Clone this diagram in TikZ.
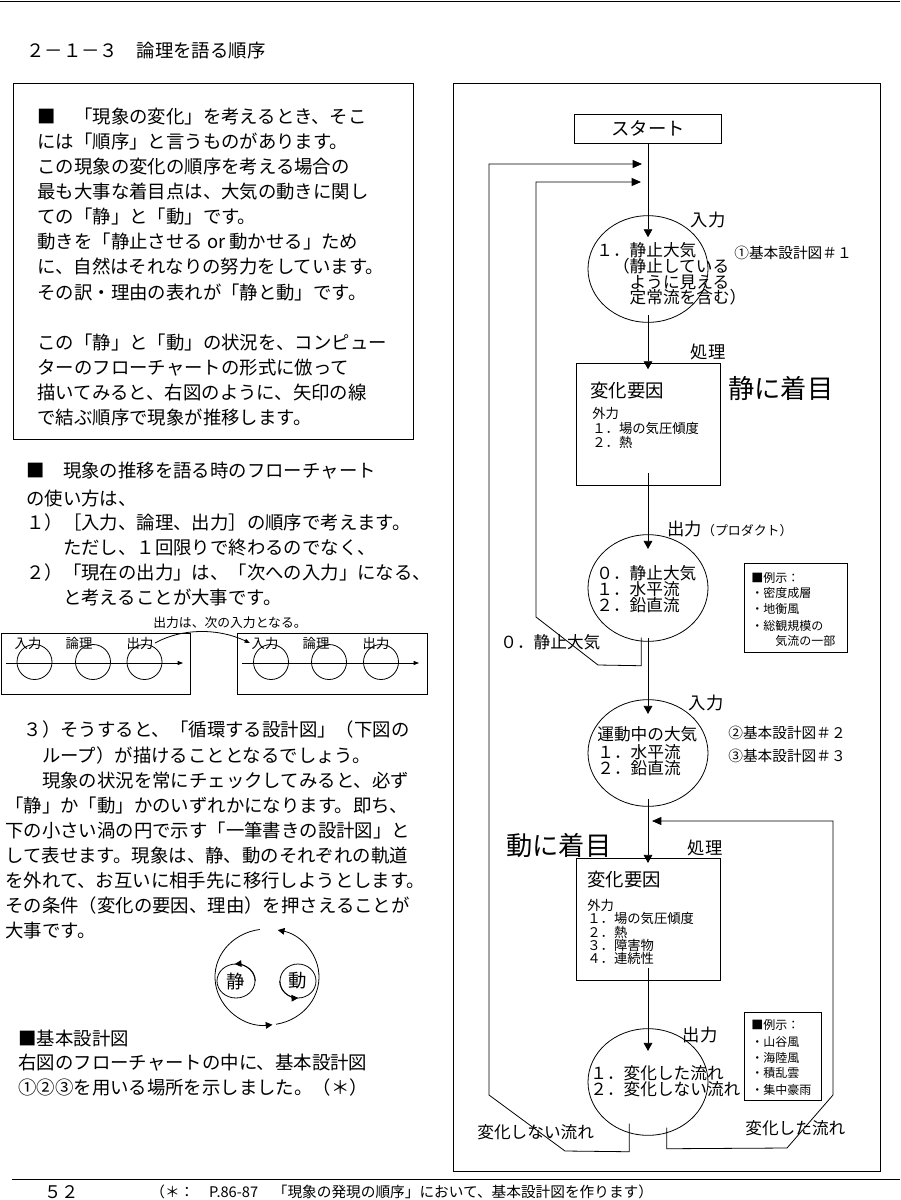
\documentclass[tikz,border=0pt]{standalone}
\usepackage{fontspec}
\setmainfont{Noto Sans CJK JP}
\usetikzlibrary{arrows.meta}
\usetikzlibrary{shapes.geometric}

\begin{document}
\begin{tikzpicture}[
	  x=0.75pt, y=-0.75pt,
	  line width=0.6pt,
	  textline/.style = {anchor=base west, inner sep=0pt, font=\fontsize{13.8}{16}\selectfont},
	  innerline/.style = {anchor=base west, inner sep=0pt, font=\fontsize{12.5}{14}\selectfont},
	  listline/.style = {anchor=base west, inner sep=0pt, font=\fontsize{10}{12}\selectfont},
	  exline/.style = {anchor=base west, inner sep=0pt, font=\fontsize{9}{11}\selectfont},
	  refline/.style = {anchor=base west, inner sep=0pt, font=\fontsize{11}{13}\selectfont},
	  focuslabel/.style = {anchor=base west, inner sep=0pt, font=\fontsize{19.7}{22}\selectfont},
	  phaselabel/.style = {inner sep=1pt, font=\fontsize{13}{15}\selectfont},
	  chainlabel/.style = {inner sep=1pt, font=\fontsize{10}{12}\selectfont},
	  air/.style = {draw, ellipse, inner sep=0pt, minimum width=90pt, minimum height=80pt},
	  factor/.style = {draw, rectangle, inner sep=0pt, minimum width=108pt, minimum height=91.5pt},
	  exbox/.style = {draw, rectangle, inner sep=0pt, anchor=north west},
	  flow/.style = {-{Triangle[length=6pt, width=6.5pt]}},
	  loopback/.style = {-{Triangle[length=7pt, width=6pt]}},
	  axis/.style = {-{Triangle[length=4pt, width=3pt]}},
	  cycle/.style = {-{Triangle[length=5pt, width=5pt]}}
	]
	  \useasboundingbox (0,0) rectangle (900,1200);

	  % page rules, heading, footer
	  \draw (0,1) -- (900,1);
	  \draw (12,1179) -- (900,1179);
	  \node[textline] (heading) at (26,57) {２－１－３　論理を語る順序};
	  \node[textline, font=\fontsize{13}{15}\selectfont] (pageno) at (44,1198) {５２};
	  \node[refline] (footnote) at (150,1197) {（＊：　P.86-87　「現象の発現の順序」において、基本設計図を作ります）};

	  % framed introduction
	  \draw (13,83) rectangle (413,439);
	  \foreach \y/\t [count=\i] in {123/■　「現象の変化」を考えるとき、そこ, 148.1/には「順序」と言うものがあります。,
	      173.3/この現象の変化の順序を考える場合の, 198.4/最も大事な着目点は、大気の動きに関し,
	      223.6/ての「静」と「動」です。, 248.7/動きを「静止させる or 動かせる」ため,
	      273.9/に、自然はそれなりの努力をしています。, 299/その訳・理由の表れが「静と動」です。,
	      349.3/この「静」と「動」の状況を、コンピュー, 374.5/ターのフローチャートの形式に倣って,
	      399.6/描いてみると、右図のように、矢印の線, 424.8/で結ぶ順序で現象が推移します。}
	    \node[textline] (intro-\i) at (37,\y) {\t};

	  % how to use the flowchart
	  \foreach \y/\t [count=\i] in {477/■　現象の推移を語る時のフローチャート, 505/の使い方は、,
	      529/１）［入力、論理、出力］の順序で考えます。, 554/　　ただし、１回限りで終わるのでなく、,
	      579/２）「現在の出力」は、「次への入力」になる、, 604/　　と考えることが大事です。}
	    \node[textline] (usage-\i) at (26,\y) {\t};

	  % input - logic - output chains
	  \draw (1,633) rectangle (190,694);
	  \draw (237,633) rectangle (427,694);
	  \foreach \n/\x in {lc1/34.5, lc2/93, lc3/144.5, rc1/271, rc2/329, rc3/381}
	    \node[draw, circle, minimum size=26.25pt, inner sep=0pt] (\n) at (\x,662) {};
	  \foreach \n/\x/\t in {lin/28/入力, llog/79/論理, lout/140/出力, rin/265/入力, rlog/316/論理, rout/376/出力}
	    \node[chainlabel] (\n) at (\x,643) {\t};
	  \coordinate (la0) at (6,663);
	  \coordinate (la1) at (183,663);
	  \coordinate (ra0) at (242,663);
	  \coordinate (ra1) at (419,663);
	  \draw[axis] (la0) -- (la1);
	  \draw[axis] (ra0) -- (ra1);
	  \node[chainlabel, font=\fontsize{9.6}{11}\selectfont] (carry) at (230,623) {出力は、次の入力となる。};
	  \draw[axis] (lout.east) .. controls (182,628) and (218,628) .. (rin.west);

	  % the loop paragraph
	  \foreach \y/\t [count=\i] in {736/　３）そうすると、「循環する設計図」（下図の, 762/　　ループ）が描けることとなるでしょう。,
	      787/　　現象の状況を常にチェックしてみると、必ず, 812/「静」か「動」かのいずれかになります。即ち、,
	      837/下の小さい渦の円で示す「一筆書きの設計図」と, 862/して表せます。現象は、静、動のそれぞれの軌道,
	      887/を外れて、お互いに相手先に移行しようとします。, 912/その条件（変化の要因、理由）を押さえることが,
	      937/大事です。}
	    \node[textline] (loop-\i) at (5,\y) {\t};

	  % one-stroke figure
	  \node[draw, ellipse, minimum width=28.5pt, minimum height=25.5pt, inner sep=0pt, font=\fontsize{13.8}{16}\selectfont] (sei) at (236,981) {静};
	  \node[draw, ellipse, minimum width=27pt, minimum height=25.5pt, inner sep=0pt, font=\fontsize{13.8}{16}\selectfont] (dou) at (298,981) {動};
	  \draw[cycle] (sei.east) arc[start angle=0, end angle=95, x radius=14.25pt, y radius=12.75pt];
	  \draw[cycle] (dou.west) arc[start angle=180, end angle=272, x radius=13.5pt, y radius=12.75pt];
	  \coordinate (orbit) at (267,977);
	  \draw[cycle] (orbit) ++(98:39pt and 36pt) arc[start angle=98, end angle=276, x radius=39pt, y radius=36pt];
	  \draw[cycle] (orbit) ++(280:39pt and 36pt) arc[start angle=280, end angle=438, x radius=39pt, y radius=36pt];

	  % basic design note
	  \foreach \y/\t [count=\i] in {1045/■基本設計図, 1069/右図のフローチャートの中に、基本設計図,
	      1094/①②③を用いる場所を示しました。（＊）}
	    \node[textline] (design-\i) at (18,\y) {\t};

	  % flowchart
	  \draw (453,83) rectangle (880,1171);
	  \node[draw, minimum width=110.25pt, minimum height=21.75pt, inner sep=0pt, font=\fontsize{13.8}{16}\selectfont] (start) at (648,128.5) {スタート};
	  \node[air] (c1) at (648,269) {};
	  \node[factor] (box2) at (648,424) {};
	  \node[air] (c2) at (648,588) {};
	  \node[air] (c3) at (648,753) {};
	  \node[factor] (box3) at (648,919) {};
	  \node[air] (c4) at (648,1082) {};

	  \foreach \y/\t [count=\i] in {256/１．静止大気, 272/　（静止している, 288/　　ように見える, 303/　　定常流を含む）}
	    \node[innerline] (c1-\i) at (596,\y) {\t};
	  \node[textline] (box2-head) at (590,397) {変化要因};
	  \foreach \y/\t [count=\i] in {418/外力, 433/１．場の気圧傾度, 447/２．熱}
	    \node[listline] (box2-\i) at (592,\y) {\t};
	  \foreach \y/\t [count=\i] in {579/０．静止大気, 595/１．水平流, 611/２．鉛直流}
	    \node[innerline] (c2-\i) at (596,\y) {\t};
	  \foreach \y/\t [count=\i] in {740/運動中の大気, 758/１．水平流, 774/２．鉛直流}
	    \node[innerline] (c3-\i) at (597,\y) {\t};
	  \node[textline] (box3-head) at (587,886) {変化要因};
	  \foreach \y/\t [count=\i] in {910/外力, 923.5/１．場の気圧傾度, 937/２．熱, 950/３．障害物, 963/４．連続性}
	    \node[listline] (box3-\i) at (587,\y) {\t};
	  \foreach \y/\t [count=\i] in {1079/１．変化した流れ, 1095/２．変化しない流れ}
	    \node[innerline] (c4-\i) at (590,\y) {\t};

	  % phase labels
	  \node[phaselabel] (in1) at (708,220) {入力};
	  \node[phaselabel] (proc1) at (708,352) {処理};
	  \node[phaselabel, anchor=base west, inner sep=0pt] (out1) at (667,535) {出力{\fontsize{9.7}{11}\selectfont（プロダクト）}};
	  \node[phaselabel] (in2) at (706,703) {入力};
	  \node[phaselabel] (proc2) at (705,848) {処理};
	  \node[phaselabel] (out2) at (700,1035) {出力};
	  \node[focuslabel] (calm) at (728,398) {静に着目};
	  \node[focuslabel] (move) at (506,855) {動に着目};
	  \node[refline] (plan1) at (734,258) {①基本設計図＃１};
	  \node[refline] (plan2) at (728,738) {②基本設計図＃２};
	  \node[refline] (plan3) at (728,761) {③基本設計図＃３};
	  \node[innerline] (keep0) at (500,648) {０．静止大気};
	  \node[innerline] (keepflow) at (477,1138) {変化しない流れ};
	  \node[innerline] (changeflow) at (745,1134) {変化した流れ};

	  % examples
	  \node[exbox, minimum width=77.25pt, minimum height=66.75pt] (ex1) at (744,563) {};
	  \foreach \y/\t [count=\i] in {582/■例示：, 597/・密度成層, 613/・地衡風, 630/・総観規模の, 645/　　気流の一部}
	    \node[exline] (ex1-\i) at (751,\y) {\t};
	  \node[exbox, minimum width=57.75pt, minimum height=66pt] (ex2) at (744,1012) {};
	  \foreach \y/\t [count=\i] in {1029/■例示：, 1046/・山谷風, 1062/・海陸風, 1077/・積乱雲, 1094/・集中豪雨}
	    \node[exline] (ex2-\i) at (751,\y) {\t};

	  % main flow
	  \draw[flow] (start) -- ([yshift=-16.5pt]c1.north);
	  \draw[flow] ([yshift=6pt]c1.south) -- ([yshift=-5pt]box2.north);
	  \draw[flow] ([yshift=9pt]box2.south) -- ([yshift=-11pt]c2.north);
	  \draw[flow] ([yshift=3pt]c2.south) -- ([yshift=-11pt]c3.north);
	  \draw[flow] ([yshift=6pt]c3.south) -- ([yshift=-4pt]box3.north);
	  \draw[flow] ([yshift=9pt]box3.south) -- ([yshift=-17pt]c4.north);

	  % loops back
	  \coordinate (back0) at (642,164);
	  \coordinate (back1) at (641,182);
	  \coordinate (back2) at (652,821);
	  \draw[loopback] ([xshift=-5pt, yshift=3pt]c2.south) -- ++(0,28) -- (598,665) -- (536,617) -- (536,182) -- (back1);
	  \draw[loopback] ([xshift=-14pt, yshift=9pt]c4.south) -- ++(0,28) -- (565,1151) -- (489,1095) -- (489,164) -- (back0);
	  \draw[loopback] ([xshift=14pt, yshift=6pt]c4.south) -- ++(0,21) -- (787,1148) -- (833,1095) -- (833,821) -- (back2);
	\end{tikzpicture}
\end{document}
